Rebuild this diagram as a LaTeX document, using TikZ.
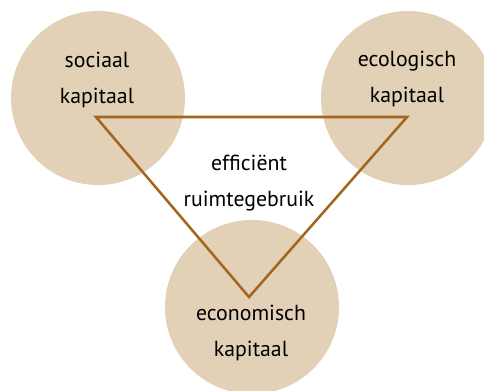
\documentclass[tikz,border=0pt]{standalone}
\usepackage{fontspec}
\setmainfont{PT Sans}
\usetikzlibrary{positioning}
\usepackage{xcolor}
\definecolor{KapitaalBeige}{RGB}{226,209,182}
\definecolor{KapitaalBrown}{RGB}{163,102,28}

\begin{document}
\begin{tikzpicture}[
x=0.025cm,
y=-0.025cm,
blob/.style={
circle,
fill=KapitaalBeige,
minimum size=4.35cm,
inner sep=0pt
},
captxt/.style={
align=center,
text=black,
font=\fontsize{15.5}{26}\selectfont
},
triangle/.style={
line width=1.8pt,
draw=KapitaalBrown,
line join=miter
}
]

\clip (0,0) rectangle (484,390);

\node[blob] (sociaal) at (98,98) {};
\node[blob] (ecologisch) at (408,98) {};
\node[blob] (economisch) at (252,307) {};

\coordinate (tl) at (96,117);
\coordinate (tr) at (407,117);
\coordinate (bm) at (249,297);

\draw[triangle] (tl) -- (tr) -- (bm) -- cycle;

\node[captxt] (sociaaltxt) at (97,80) {sociaal\\kapitaal};
\node[captxt] (ecologischtxt) at (407,79) {ecologisch\\kapitaal};
\node[captxt] (middentxt) at (249,183) {efficiënt\\ruimtegebruik};
\node[captxt] (economischtxt) at (251,333) {economisch\\kapitaal};

\end{tikzpicture}
\end{document}
